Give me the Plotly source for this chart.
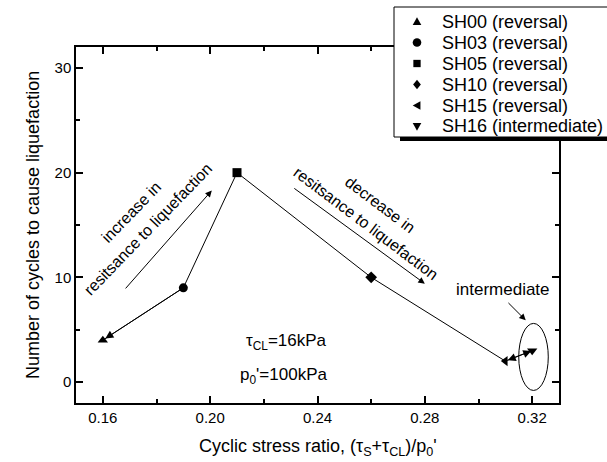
import plotly.graph_objects as go

# ---------------- data ----------------
samples = ["SH00 (reversal)", "SH03 (reversal)", "SH05 (reversal)",
           "SH10 (reversal)", "SH15 (reversal)", "SH16 (intermediate)"]
csr = [0.16, 0.19, 0.21, 0.26, 0.31, 0.32]          # (tau_S + tau_CL)/p0'
cycles = [4, 9, 20, 10, 2, 3]                        # cycles to liquefaction
symbols = ["triangle-up", "circle", "square", "diamond", "triangle-left", "triangle-down"]

x_tickvals = [0.16, 0.20, 0.24, 0.28, 0.32]
x_ticktext = ["0.16", "0.20", "0.24", "0.28", "0.32"]
x_minor = [0.18, 0.22, 0.26, 0.30]
y_tickvals = [0, 10, 20, 30]
y_minor = [5, 15, 25]

x_title = "Cyclic stress ratio, (τ<sub>S</sub>+τ<sub>CL</sub>)/p<sub>0</sub>'"
y_title = "Number of cycles to cause liquefaction"

# ---------------- layout geometry ----------------
W, H = 607, 462
ML, MR, MT, MB = 76, 48, 47, 59
PW, PH = W - ML - MR, H - MT - MB
FONT = "Arial, Liberation Sans, sans-serif"


def pxx(x):
    return (x - ML) / PW


def pxy(y):
    return (H - MB - y) / PH


fig = go.Figure()

fig.add_trace(go.Scatter(
    x=csr, y=cycles, mode="lines+markers",
    line=dict(color="black", width=1),
    marker=dict(symbol=symbols, size=9, color="black"),
    text=samples, showlegend=False, hoverinfo="text+x+y",
))

annotations = []

# arrow heads on the data path
annotations.append(dict(x=csr[0], y=cycles[0], ax=csr[1], ay=cycles[1],
                        xref="x", yref="y", axref="x", ayref="y", text="",
                        showarrow=True, arrowhead=2, arrowsize=1.6, arrowwidth=1,
                        arrowcolor="black", standoff=3))
annotations.append(dict(x=csr[5], y=cycles[5], ax=csr[4], ay=cycles[4],
                        xref="x", yref="y", axref="x", ayref="y", text="",
                        showarrow=True, arrowhead=2, arrowsize=1.6, arrowwidth=1,
                        arrowside="end+start", arrowcolor="black",
                        standoff=1, startstandoff=1))

# trend arrows
annotations.append(dict(x=0.2006, y=18.3, ax=0.168, ay=8.8,
                        xref="x", yref="y", axref="x", ayref="y", text="",
                        showarrow=True, arrowhead=2, arrowsize=1.3, arrowwidth=1,
                        arrowcolor="black"))
annotations.append(dict(x=0.280, y=9.4, ax=0.2308, ay=18.6,
                        xref="x", yref="y", axref="x", ayref="y", text="",
                        showarrow=True, arrowhead=2, arrowsize=1.3, arrowwidth=1,
                        arrowcolor="black"))
annotations.append(dict(x=0.3176, y=5.9, ax=0.3106, ay=7.7,
                        xref="x", yref="y", axref="x", ayref="y", text="",
                        showarrow=True, arrowhead=2, arrowsize=1.3, arrowwidth=1,
                        arrowcolor="black"))

tfont = dict(family=FONT, size=16, color="black")
afont = dict(family=FONT, size=17, color="black")
for txt, x, y, ang in [("increase in", 0.1705, 16.16, -46),
                       ("resitsance to liquefaction", 0.1767, 14.58, -46),
                       ("decrease in", 0.2633, 16.97, 37),
                       ("resitsance to liquefaction", 0.2581, 15.16, 37)]:
    annotations.append(dict(x=x, y=y, xref="x", yref="y", text=txt, textangle=ang,
                            showarrow=False, font=tfont,
                            xanchor="center", yanchor="middle"))

annotations.append(dict(x=0.3091, y=8.85, xref="x", yref="y", text="intermediate",
                        showarrow=False, font=afont))
annotations.append(dict(x=0.2283, y=3.8, xref="x", yref="y",
                        text="τ<sub>CL</sub>=16kPa", showarrow=False, font=afont))
annotations.append(dict(x=0.2274, y=0.55, xref="x", yref="y",
                        text="p<sub>0</sub>'=100kPa", showarrow=False, font=afont))

# axis titles
title_font = dict(family=FONT, size=18, color="black")
annotations.append(dict(x=0.5, y=pxy(447), xref="paper", yref="paper", text=x_title,
                        showarrow=False, xanchor="center", yanchor="middle", font=title_font))
annotations.append(dict(x=pxx(33), y=0.5, xref="paper", yref="paper", text=y_title,
                        textangle=-90, showarrow=False, xanchor="center", yanchor="middle",
                        font=title_font))

shapes = []
# ellipse around intermediate point
shapes.append(dict(type="circle", xref="x", yref="y", x0=0.315, x1=0.326,
                   y0=-0.8, y1=5.6, line=dict(color="black", width=1)))

# ---------------- manual legend ----------------
shapes.append(dict(type="rect", xref="paper", yref="paper",
                   x0=pxx(400), x1=pxx(640), y0=pxy(141), y1=pxy(133),
                   fillcolor="black", line=dict(width=0), layer="above"))
shapes.append(dict(type="rect", xref="paper", yref="paper",
                   x0=pxx(394), x1=pxx(640), y0=pxy(137), y1=pxy(7),
                   fillcolor="white", line=dict(color="black", width=1), layer="above"))

leg_x = 417
leg_rows = [21.5 + 21 * i for i in range(len(samples))]
r = 4.3


def path(pts):
    return "M " + " L ".join(f"{pxx(a):.5f},{pxy(b):.5f}" for a, b in pts) + " Z"


for sym, name, cy in zip(symbols, samples, leg_rows):
    cx = leg_x
    common = dict(xref="paper", yref="paper", fillcolor="black",
                  line=dict(color="black", width=0), layer="above")
    if sym == "triangle-up":
        shapes.append(dict(type="path", path=path([(cx - r, cy + r * 0.8), (cx + r, cy + r * 0.8), (cx, cy - r)]), **common))
    elif sym == "circle":
        shapes.append(dict(type="circle", x0=pxx(cx - r), x1=pxx(cx + r), y0=pxy(cy + r), y1=pxy(cy - r), **common))
    elif sym == "square":
        s = r * 0.85
        shapes.append(dict(type="rect", x0=pxx(cx - s), x1=pxx(cx + s), y0=pxy(cy + s), y1=pxy(cy - s), **common))
    elif sym == "diamond":
        shapes.append(dict(type="path", path=path([(cx, cy - r * 1.1), (cx + r * 0.9, cy), (cx, cy + r * 1.1), (cx - r * 0.9, cy)]), **common))
    elif sym == "triangle-left":
        shapes.append(dict(type="path", path=path([(cx - r, cy), (cx + r * 0.8, cy - r), (cx + r * 0.8, cy + r)]), **common))
    elif sym == "triangle-down":
        shapes.append(dict(type="path", path=path([(cx - r, cy - r * 0.8), (cx + r, cy - r * 0.8), (cx, cy + r)]), **common))
    annotations.append(dict(x=pxx(440), y=pxy(cy), xref="paper", yref="paper",
                            text=name, showarrow=False, xanchor="left", yanchor="middle",
                            font=dict(family=FONT, size=18, color="black")))

axis_common = dict(showline=True, linecolor="black", linewidth=1.5, mirror="ticks",
                   ticks="inside", ticklen=7, tickwidth=1.5, tickcolor="black",
                   showgrid=False, zeroline=False, automargin=False,
                   tickfont=dict(family=FONT, size=15, color="black"))

fig.update_layout(
    width=W, height=H,
    margin=dict(l=ML, r=MR, t=MT, b=MB, pad=0, autoexpand=False),
    paper_bgcolor="white", plot_bgcolor="white",
    font=dict(family=FONT, color="black"),
    xaxis=dict(range=[0.15, 0.33], tickvals=x_tickvals, ticktext=x_ticktext,
               minor=dict(tickvals=x_minor, ticks="inside", ticklen=4, tickwidth=1.5,
                          tickcolor="black", showgrid=False),
               **axis_common),
    yaxis=dict(range=[-2, 32], tickvals=y_tickvals,
               minor=dict(tickvals=y_minor, ticks="inside", ticklen=4, tickwidth=1.5,
                          tickcolor="black", showgrid=False),
               **axis_common),
    annotations=annotations,
    shapes=shapes,
    showlegend=False,
)

fig.write_html("out.html")
